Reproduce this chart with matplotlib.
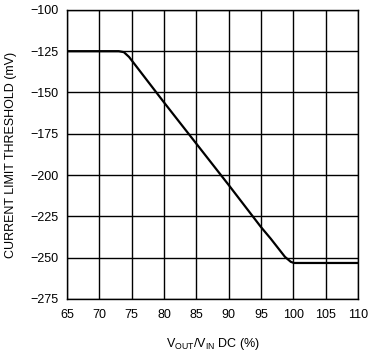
import matplotlib
matplotlib.use("Agg")
import matplotlib.pyplot as plt

# duty cycle (%) vs current limit threshold (mV)
duty = [65, 73.0, 73.8, 74.6, 80, 85, 90, 95, 96.5, 98.7, 99.6, 100.1, 100.5, 110]
thresh = [-125, -125, -125.6, -128.5, -156, -181, -206, -231.5, -238.5, -249.5, -252.5, -253.2, -253.2, -253.2]

xticks = list(range(65, 111, 5))
yticks = list(range(-275, -99, 25))

plt.rcParams["font.family"] = ["Liberation Sans", "DejaVu Sans"]
plt.rcParams["mathtext.fontset"] = "custom"
plt.rcParams["mathtext.rm"] = "Liberation Sans"

fig = plt.figure(figsize=(3.68, 3.53), dpi=100)
ax = fig.add_axes([0.182, 0.153, 0.791, 0.819])

ax.plot(duty, thresh, color="black", lw=1.6, solid_joinstyle="round")

ax.set_xlim(65, 110)
ax.set_ylim(-275, -100)
ax.set_xticks(xticks)
ax.set_yticks(yticks)
ax.grid(True, color="black", lw=1.0)
ax.tick_params(length=0, labelsize=9)
ax.tick_params(axis="x", pad=7)
ax.tick_params(axis="y", pad=6)
for s in ax.spines.values():
    s.set_linewidth(1.0)
    s.set_color("black")

ax.set_xlabel(r"V$_{\mathregular{OUT}}$/V$_{\mathregular{IN}}$ DC (%)", fontsize=9, labelpad=11)
ax.set_ylabel("CURRENT LIMIT THRESHOLD (mV)", fontsize=9, labelpad=10)

fig.savefig("out.png", dpi=100)
